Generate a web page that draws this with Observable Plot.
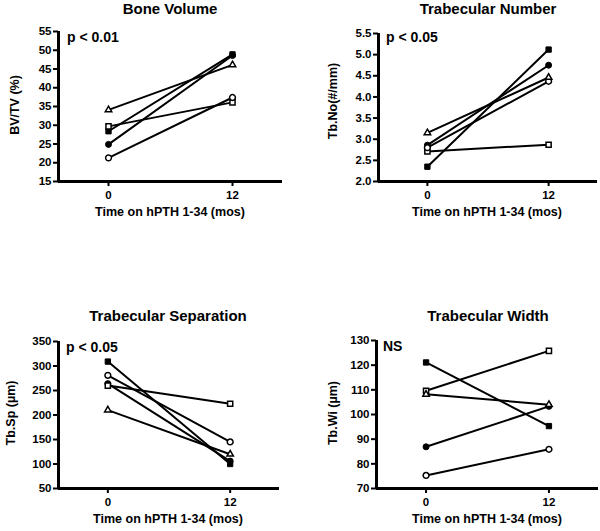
<!DOCTYPE html>
<html>
<head>
<meta charset="utf-8">
<script src="https://cdn.jsdelivr.net/npm/d3@7"></script>
<script src="https://cdn.jsdelivr.net/npm/@observablehq/plot@0.6"></script>
<style>
  html, body { margin: 0; padding: 0; background: #fff; }
  #chart { position: relative; width: 600px; height: 531px; background: #fff; overflow: hidden;
           font-family: "Liberation Sans", Arial, Helvetica, sans-serif; font-weight: bold; color: #000; }
  .panel { position: absolute; }
  .txt { position: absolute; white-space: nowrap; line-height: 1; }
  .c { transform: translate(-50%, -50%); }
  .l { transform: translate(0, -50%); }
  .r { transform: translate(-50%, -50%) rotate(-90deg); }
</style>
</head>
<body>
<div id="chart"></div>
<script>
// ---- Data ----
const times = [0, 12];
const subjects = ["filled square", "open triangle", "filled circle", "open square", "open circle"];
const subjectSymbols = ["square", "triangle", "circle", "square", "circle"];
const subjectFilled = [true, false, true, false, false];

const panelTitles = ["Bone Volume", "Trabecular Number", "Trabecular Separation", "Trabecular Width"];
const yLabels = ["BV/TV (%)", "Tb.No(#/mm)", "Tb.Sp (\u00b5m)", "Tb.Wi (\u00b5m)"];
const pLabels = ["p < 0.01", "p < 0.05", "p < 0.05", "NS"];
const xLabel = "Time on hPTH 1-34 (mos)";

const bvtv0  = [28.4, 34.1, 24.9, 29.7, 21.3];
const bvtv12 = [48.9, 46.1, 48.6, 36.1, 37.4];
const tbno0  = [2.35, 3.15, 2.86, 2.71, 2.80];
const tbno12 = [5.12, 4.46, 4.75, 2.87, 4.37];
const tbsp0  = [309, 210, 264, 260, 281];
const tbsp12 = [100, 120, 106, 223, 145];
const tbwi0  = [121.1, 108.2, 86.9, 109.6, 75.3];
const tbwi12 = [95.3, 104.0, 103.3, 125.8, 85.9];

const bvtvTicks = [15, 20, 25, 30, 35, 40, 45, 50, 55];
const tbnoTicks = [2.0, 2.5, 3.0, 3.5, 4.0, 4.5, 5.0, 5.5];
const tbspTicks = [50, 100, 150, 200, 250, 300, 350];
const tbwiTicks = [70, 80, 90, 100, 110, 120, 130];

// ---- Layout ----
const chart = document.getElementById("chart");
const xDomain = [-4.84, 16.84];

function addText(text, x, y, cls, size) {
  const d = document.createElement("div");
  d.className = "txt " + cls;
  d.style.left = x + "px";
  d.style.top = y + "px";
  d.style.fontSize = size + "px";
  d.textContent = text;
  chart.appendChild(d);
}

function makePanel(cfg) {
  const rows = [];
  subjects.forEach((s, i) => {
    rows.push({subject: s, i, time: times[0], value: cfg.v0[i]});
    rows.push({subject: s, i, time: times[1], value: cfg.v12[i]});
  });
  const ymin = cfg.ticks[0], ymax = cfg.ticks[cfg.ticks.length - 1];
  const filled = rows.filter(d => subjectFilled[d.i]);
  const openNonTri = rows.filter(d => !subjectFilled[d.i] && subjectSymbols[d.i] !== "triangle");
  const openTri = rows.filter(d => subjectSymbols[d.i] === "triangle");
  const svg = Plot.plot({
    width: 300, height: cfg.h,
    marginLeft: cfg.ml, marginRight: cfg.mr, marginTop: cfg.mt, marginBottom: cfg.mb,
    style: {fontFamily: '"Liberation Sans", Arial, sans-serif', fontWeight: "bold", fontSize: "11px", background: "transparent", overflow: "visible"},
    x: {domain: xDomain, axis: null},
    y: {domain: [ymin, ymax], axis: null},
    symbol: {domain: subjects, range: subjectSymbols},
    marks: [
      Plot.axisY({ticks: cfg.ticks, tickSize: 5, tickPadding: 2, strokeWidth: 2, tickFormat: cfg.fmt, label: null, fontSize: 11.5}),
      Plot.axisX({ticks: times, tickSize: 5, tickPadding: 4, strokeWidth: 2, label: null, fontSize: 11.5}),
      Plot.ruleX([xDomain[0]], {y1: ymin, y2: ymax, strokeWidth: 3, stroke: "black"}),
      Plot.ruleY([ymin], {x1: xDomain[0], x2: xDomain[1], strokeWidth: 3, stroke: "black"}),
      Plot.line(rows, {x: "time", y: "value", z: "subject", stroke: "black", strokeWidth: 2}),
      Plot.dot(filled, {x: "time", y: "value", symbol: "subject", r: 3, fill: "black", stroke: "black", strokeWidth: 1}),
      Plot.dot(openNonTri, {x: "time", y: "value", symbol: "subject", r: 2.9, fill: "white", stroke: "black", strokeWidth: 1.5}),
      Plot.dot(openTri, {x: "time", y: "value", symbol: "subject", r: 2.4, fill: "white", stroke: "black", strokeWidth: 1.5})
    ]
  });
  const wrap = document.createElement("div");
  wrap.className = "panel";
  wrap.style.left = cfg.left + "px";
  wrap.style.top = cfg.top + "px";
  wrap.appendChild(svg);
  chart.appendChild(wrap);

  addText(cfg.title, cfg.titlePos[0], cfg.titlePos[1], "c", 15);
  addText(cfg.ylab, cfg.ylabPos[0], cfg.ylabPos[1], "r", 12.5);
  addText(xLabel, cfg.xlabPos[0], cfg.xlabPos[1], "c", 12.5);
  addText(cfg.p, cfg.pPos[0], cfg.pPos[1], "l", 14);
}

const fmtInt = d3.format("d");
const fmt1 = d3.format(".1f");

makePanel({left: 0, top: 0, h: 265, ml: 58, mr: 18, mt: 31, mb: 84,
  v0: bvtv0, v12: bvtv12, ticks: bvtvTicks, fmt: fmtInt,
  title: panelTitles[0], titlePos: [170, 8], ylab: yLabels[0], ylabPos: [15, 105],
  xlabPos: [170, 212], p: pLabels[0], pPos: [67, 37]});

makePanel({left: 300, top: 0, h: 265, ml: 78, mr: 3, mt: 33, mb: 84,
  v0: tbno0, v12: tbno12, ticks: tbnoTicks, fmt: fmt1,
  title: panelTitles[1], titlePos: [488, 8], ylab: yLabels[1], ylabPos: [333, 101],
  xlabPos: [487, 212], p: pLabels[1], pPos: [386, 37]});

makePanel({left: 0, top: 265, h: 266, ml: 58, mr: 21, mt: 76, mb: 43,
  v0: tbsp0, v12: tbsp12, ticks: tbspTicks, fmt: fmtInt,
  title: panelTitles[2], titlePos: [168, 315], ylab: yLabels[2], ylabPos: [11, 413],
  xlabPos: [168, 519], p: pLabels[2], pPos: [66, 347]});

makePanel({left: 300, top: 265, h: 266, ml: 76, mr: 2, mt: 75, mb: 43,
  v0: tbwi0, v12: tbwi12, ticks: tbwiTicks, fmt: fmtInt,
  title: panelTitles[3], titlePos: [488, 315], ylab: yLabels[3], ylabPos: [333, 413],
  xlabPos: [487, 519], p: pLabels[3], pPos: [383, 346]});
</script>
</body>
</html>
